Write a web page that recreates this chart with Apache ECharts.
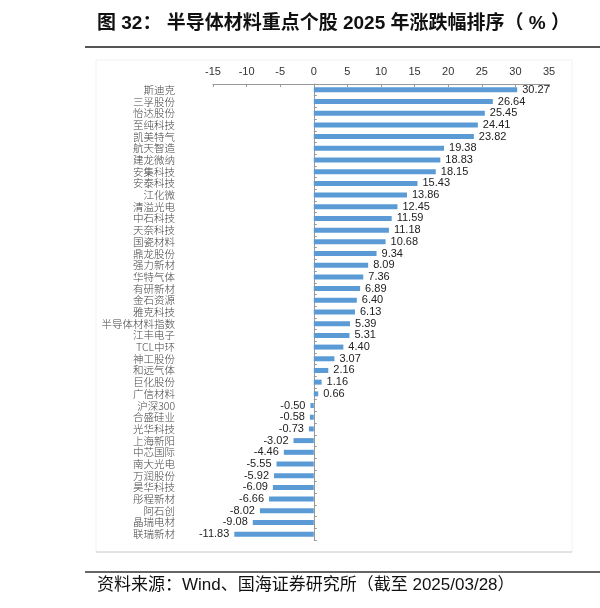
<!DOCTYPE html>
<html>
<head>
<meta charset="utf-8">
<script src="https://cdn.jsdelivr.net/npm/echarts@6/dist/echarts.min.js"></script>
<style>
  html, body { margin: 0; padding: 0; background: #fff; }
  #main { width: 600px; height: 608px; }
</style>
</head>
<body>
<div id="main"></div>
<script>
// 个股名称（从上到下）
var stocks = ["斯迪克", "三孚股份", "怡达股份", "至纯科技", "凯美特气", "航天智造", "建龙微纳",
  "安集科技", "安泰科技", "江化微", "清溢光电", "中石科技", "天奈科技", "国瓷材料", "鼎龙股份",
  "强力新材", "华特气体", "有研新材", "金石资源", "雅克科技", "半导体材料指数", "江丰电子",
  "TCL中环", "神工股份", "和远气体", "巨化股份", "广信材料", "沪深300", "合盛硅业", "光华科技",
  "上海新阳", "中芯国际", "南大光电", "万润股份", "昊华科技", "彤程新材", "阿石创", "晶瑞电材",
  "联瑞新材"];

// 2025年涨跌幅（%）
var changes = [30.27, 26.64, 25.45, 24.41, 23.82, 19.38, 18.83, 18.15, 15.43, 13.86, 12.45,
  11.59, 11.18, 10.68, 9.34, 8.09, 7.36, 6.89, 6.40, 6.13, 5.39, 5.31, 4.40, 3.07, 2.16, 1.16,
  0.66, -0.50, -0.58, -0.73, -3.02, -4.46, -5.55, -5.92, -6.09, -6.66, -8.02, -9.08, -11.83];

var xMin = -15, xMax = 35, xStep = 5;

var myChart = echarts.init(document.getElementById("main"));

// 负值标签放在左边
var barData = changes.map(function (v) {
  return { value: v, label: { position: v < 0 ? "left" : "right" } };
});

var option = {
  backgroundColor: "#fff",
  animation: false,
  graphic: [
    {
      type: "rect",
      shape: { x: 96, y: 60, width: 476, height: 492 },
      style: { fill: "none", stroke: "#f2f2f2", lineWidth: 1 },
      z: -1
    },
    {
      type: "line",
      shape: { x1: 96, y1: 552, x2: 572, y2: 552 },
      style: { stroke: "#cccccc", lineWidth: 1 }
    },
    {
      type: "text",
      left: 97,
      top: 14,
      style: {
        text: "图 32： 半导体材料重点个股 2025 年涨跌幅排序（ % ）",
        font: "bold 19px 'Liberation Sans', 'Noto Sans CJK SC', sans-serif",
        fill: "#111"
      }
    },
    {
      type: "line",
      shape: { x1: 85, y1: 47, x2: 600, y2: 47 },
      style: { stroke: "#555", lineWidth: 2 }
    },
    {
      type: "line",
      shape: { x1: 85, y1: 572, x2: 600, y2: 572 },
      style: { stroke: "#333", lineWidth: 1.5 }
    },
    {
      type: "text",
      left: 97,
      top: 577,
      style: {
        text: "资料来源：Wind、国海证券研究所（截至 2025/03/28）",
        font: "17px 'Liberation Sans', 'Noto Sans CJK SC', sans-serif",
        fill: "#111"
      }
    }
  ],
  grid: { left: 213, right: 51, top: 84, bottom: 68 },
  xAxis: {
    type: "value",
    position: "top",
    min: xMin,
    max: xMax,
    interval: xStep,
    splitLine: { show: false },
    axisLine: { show: true, onZero: false, lineStyle: { color: "#999" } },
    axisTick: { show: true, inside: true, length: 3, lineStyle: { color: "#999" } },
    axisLabel: { color: "#333", fontSize: 11, margin: 7, fontFamily: "Liberation Sans" }
  },
  yAxis: [
    {
      type: "category",
      data: stocks,
      inverse: true,
      position: "left",
      axisLine: { show: false, onZero: false },
      axisTick: { show: false },
      axisLabel: {
        interval: 0,
        color: "#444",
        fontSize: 10.5,
        fontWeight: 300,
        margin: 38,
        fontFamily: "'Noto Sans CJK SC', sans-serif"
      }
    },
    {
      type: "category",
      data: stocks,
      inverse: true,
      position: "right",
      axisLine: { show: true, onZero: true, lineStyle: { color: "#999" } },
      axisTick: { show: true, interval: 0, length: 3, lineStyle: { color: "#999" } },
      axisLabel: { show: false, interval: 0 }
    }
  ],
  series: [
    {
      name: "涨跌幅",
      type: "bar",
      yAxisIndex: 0,
      data: barData,
      barWidth: 5,
      itemStyle: { color: "#5b9bd5" },
      label: {
        show: true,
        distance: 5,
        color: "#222",
        fontSize: 11,
        fontFamily: "Liberation Sans",
        formatter: function (p) { return p.value.toFixed(2); }
      }
    }
  ]
};

myChart.setOption(option);
</script>
</body>
</html>
